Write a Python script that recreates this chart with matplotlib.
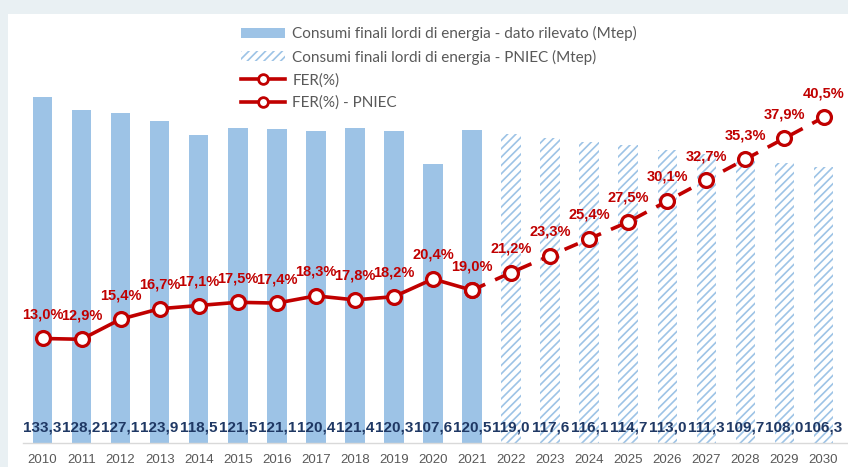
import matplotlib
matplotlib.use("Agg")
import matplotlib.pyplot as plt
from matplotlib.patches import Rectangle, Patch
from matplotlib.lines import Line2D
import numpy as np

years = [str(y) for y in range(2010, 2031)]
consumi = [133.3, 128.2, 127.1, 123.9, 118.5, 121.5, 121.1, 120.4, 121.4, 120.3,
           107.6, 120.5, 119.0, 117.6, 116.1, 114.7, 113.0, 111.3, 109.7, 108.0, 106.3]
n_rilevato = 12  # 2010-2021 measured, rest PNIEC
fer = [13.0, 12.9, 15.4, 16.7, 17.1, 17.5, 17.4, 18.3, 17.8, 18.2, 20.4, 19.0,
       21.2, 23.3, 25.4, 27.5, 30.1, 32.7, 35.3, 37.9, 40.5]

labels_legend = ["Consumi finali lordi di energia - dato rilevato (Mtep)",
                 "Consumi finali lordi di energia - PNIEC (Mtep)",
                 "FER(%)", "FER(%) - PNIEC"]

BLUE = "#9dc3e6"
RED = "#c00000"
NAVY = "#1f3864"
GRAY = "#595959"

plt.rcParams['hatch.linewidth'] = 1.2
W, H = 848, 467
fig = plt.figure(figsize=(W/100, H/100), dpi=100)
fig.patch.set_facecolor("#e9f0f3")
fig.patches.append(Rectangle((8/W, 0), 1, 1 - 14/H, transform=fig.transFigure,
                             facecolor="white", edgecolor="none", zorder=-10))

left_px, right_px, top_px, bot_px = 23, 848, 20, 443
ax = fig.add_axes([left_px/W, (H-bot_px)/H, (right_px-left_px)/W, (bot_px-top_px)/H])
ax.set_facecolor("none")

x = np.arange(len(years))
pxu = 39.05
ax.set_xlim(-(42.5-left_px)/pxu, (right_px-42.5)/pxu)
ax.set_ylim(0, (bot_px-top_px)/2.595)

ax.bar(x[:n_rilevato], consumi[:n_rilevato], width=0.5, color=BLUE, linewidth=0, zorder=2)
ax.bar(x[n_rilevato:], consumi[n_rilevato:], width=0.5, color="white", edgecolor=BLUE,
       hatch="////", linewidth=0, zorder=2)

for xi, v in zip(x, consumi):
    ax.annotate(f"{v:.1f}".replace(".", ","), xy=(xi, 0), xytext=(0, 10.8),
                textcoords="offset points", ha="center", va="center",
                fontsize=11, fontweight="bold", color=NAVY,
                family="Liberation Sans", zorder=5)

for s in ["left", "right", "top"]:
    ax.spines[s].set_visible(False)
ax.spines["bottom"].set_color("#d9d9d9")
ax.spines["bottom"].set_linewidth(1)
ax.set_yticks([])
ax.set_xticks(x)
ax.set_xticklabels(years, fontsize=9.5, color=GRAY, family="Liberation Sans")
ax.tick_params(axis="x", length=0, pad=8)

ax2 = ax.twinx()
ax2.set_ylim(0, (bot_px-top_px)/8.04)
ax2.set_yticks([])
for s in ax2.spines.values():
    s.set_visible(False)

ax2.plot(x[n_rilevato-1:], fer[n_rilevato-1:], color=RED, lw=2.6, dashes=(4, 3),
         marker="o", markersize=10, markerfacecolor="white", markeredgecolor=RED,
         markeredgewidth=2.3, zorder=3)
ax2.plot(x[:n_rilevato], fer[:n_rilevato], color=RED, lw=2.6,
         marker="o", markersize=10, markerfacecolor="white", markeredgecolor=RED,
         markeredgewidth=2.3, zorder=4)

for xi, v in zip(x, fer):
    ax2.annotate(f"{v:.1f}%".replace(".", ","), xy=(xi, v), xytext=(0, 17.3),
                 textcoords="offset points", ha="center", va="center",
                 fontsize=10.5, fontweight="bold", color=RED,
                 family="Liberation Sans", zorder=6)

handles = [Patch(facecolor=BLUE, edgecolor="none"),
           Patch(facecolor="white", edgecolor=BLUE, hatch="////", linewidth=0),
           Line2D([], [], color=RED, lw=2.6, marker="o", markersize=7,
                  markerfacecolor="white", markeredgecolor=RED, markeredgewidth=2),
           Line2D([], [], color=RED, lw=2.6, marker="o", markersize=7,
                  markerfacecolor="white", markeredgecolor=RED, markeredgewidth=2)]
leg = fig.legend(handles, labels_legend, loc="upper left",
                 bbox_to_anchor=(241/W, 1 - 26/H), frameon=False,
                 prop={"family": ["Lato", "DejaVu Sans"], "size": 11},
                 handlelength=2.9, handleheight=0.6, handletextpad=0.45,
                 labelspacing=0.55, borderpad=0, borderaxespad=0)
for t in leg.get_texts():
    t.set_color(GRAY)

fig.savefig("out.png", dpi=100, facecolor=fig.get_facecolor())
